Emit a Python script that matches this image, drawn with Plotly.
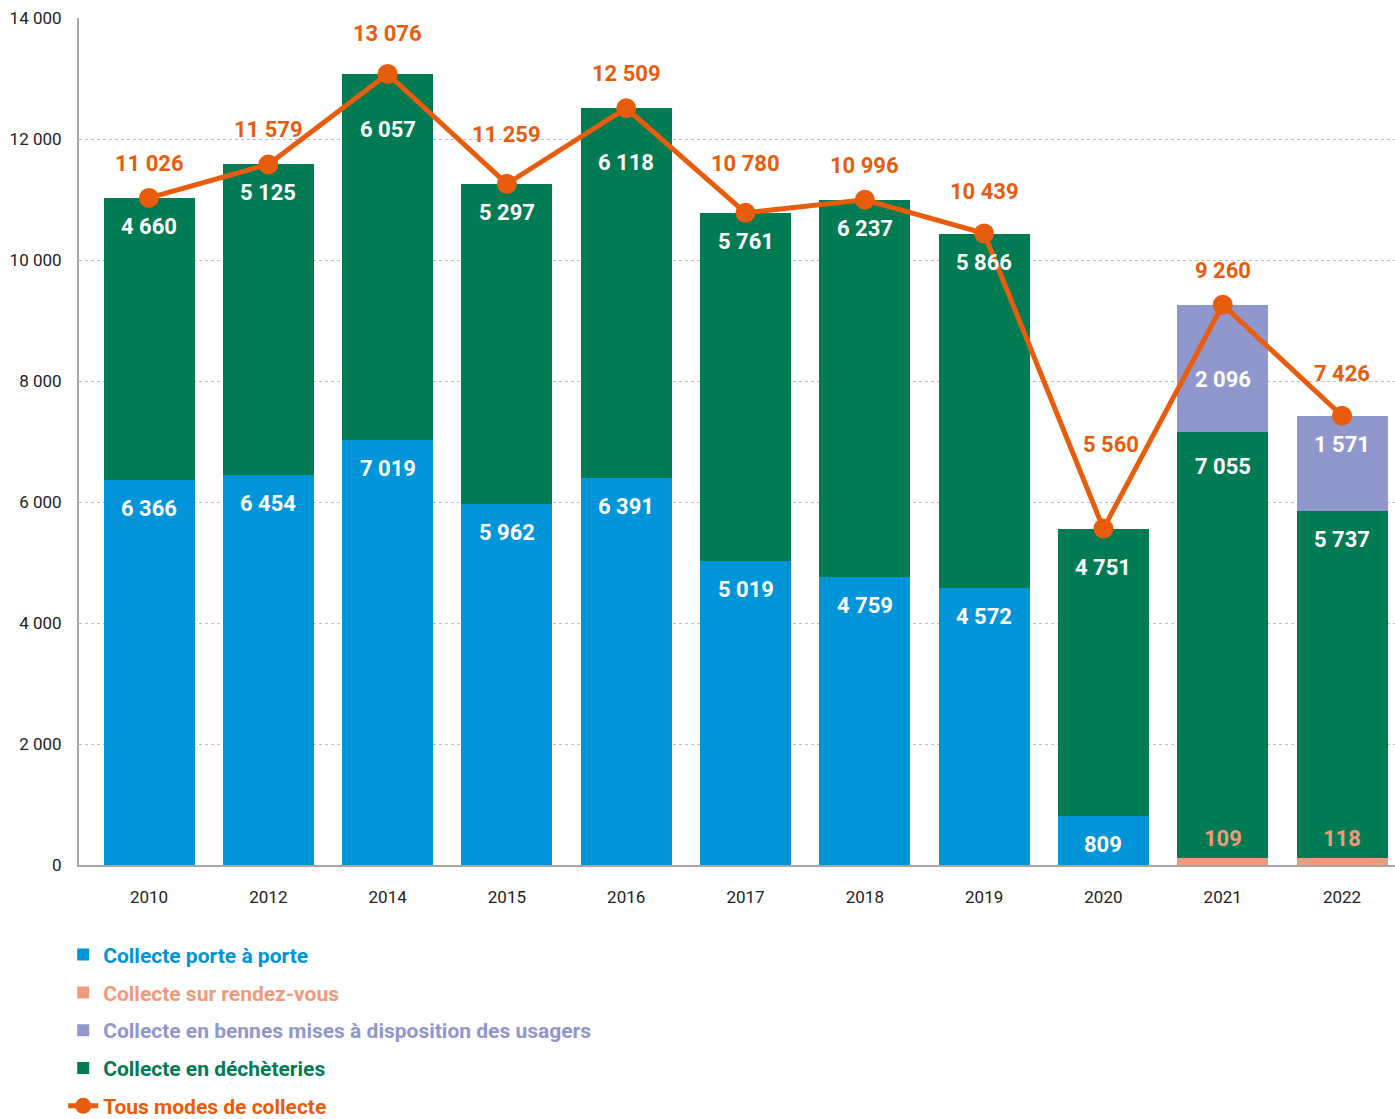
import plotly.graph_objects as go

# Collected tonnage by collection mode
years = ["2010", "2012", "2014", "2015", "2016", "2017", "2018", "2019", "2020", "2021", "2022"]
porte_a_porte = [6366, 6454, 7019, 5962, 6391, 5019, 4759, 4572, 809, None, None]
rendez_vous = [None, None, None, None, None, None, None, None, None, 109, 118]
decheteries = [4660, 5125, 6057, 5297, 6118, 5761, 6237, 5866, 4751, 7055, 5737]
bennes = [None, None, None, None, None, None, None, None, None, 2096, 1571]
total = [11026, 11579, 13076, 11259, 12509, 10780, 10996, 10439, 5560, 9260, 7426]
y_ticks = [0, 2000, 4000, 6000, 8000, 10000, 12000, 14000]

BLUE = "#0094D8"
SALMON = "#F09A7C"
LAVENDER = "#8F97CC"
GREEN = "#007B53"
ORANGE = "#E85C0D"
FONT = "Roboto"


def fmt(v):
    return f"{v:,}".replace(",", " ")


# stacking order bottom -> top, with legend rank
stack = [
    ("Collecte porte à porte", porte_a_porte, BLUE, 1),
    ("Collecte sur rendez-vous", rendez_vous, SALMON, 2),
    ("Collecte en déchèteries", decheteries, GREEN, 4),
    ("Collecte en bennes mises à disposition des usagers", bennes, LAVENDER, 3),
]

fig = go.Figure()
for name, vals, color, rank in stack:
    fig.add_trace(go.Bar(
        x=years, y=vals, name=f"<span style='color:{color}'><b>{name}</b></span>",
        marker=dict(color=color, line=dict(width=0)),
        legendrank=rank, legendgroup=name, hoverinfo="skip",
    ))

fig.add_trace(go.Scatter(
    x=years, y=total, mode="lines+markers",
    name=f"<span style='color:{ORANGE}'><b>Tous modes de collecte</b></span>",
    line=dict(color=ORANGE, width=5),
    marker=dict(color=ORANGE, size=20),
    legendrank=5, legendgroup="total", hoverinfo="skip",
))

# value labels inside each stacked segment, near its top
# (category positions are given by index so numeric-looking years are not misread)
drop_default = -14
drop_override = {("Collecte en déchèteries", "2014"): -41,
                 ("Collecte en déchèteries", "2016"): -40,
                 ("Collecte en déchèteries", "2020"): -24,
                 ("Collecte en déchèteries", "2021"): -20,
                 ("Collecte en bennes mises à disposition des usagers", "2021"): -60}
annotations = []
base = [0] * len(years)
for name, vals, color, rank in stack:
    for i, v in enumerate(vals):
        if v is None:
            continue
        top = base[i] + v
        if color == SALMON:
            annotations.append(dict(
                x=i, y=top, text=f"<b>{fmt(v)}</b>", showarrow=False,
                yanchor="bottom", yshift=5,
                font=dict(family=FONT, size=22, color=SALMON)))
        else:
            annotations.append(dict(
                x=i, y=top, text=f"<b>{fmt(v)}</b>", showarrow=False,
                yanchor="top", yshift=drop_override.get((name, years[i]), drop_default),
                font=dict(family=FONT, size=22, color="white")))
        base[i] = top

# total labels above the line markers
lift_default = 20
lift_override = {"2014": 26, "2015": 35, "2017": 35, "2019": 27, "2022": 28}
for i, v in enumerate(total):
    xs = 0
    lift = lift_override.get(years[i], lift_default)
    if years[i] == "2020":
        xs, lift = 8, 70
    annotations.append(dict(
        x=i, y=v, text=f"<b>{fmt(v)}</b>", showarrow=False,
        yanchor="bottom", yshift=lift, xshift=xs,
        font=dict(family=FONT, size=22, color=ORANGE)))

fig.update_layout(
    width=1395, height=1119,
    margin=dict(l=79, r=0, t=18, b=254, autoexpand=False),
    paper_bgcolor="white", plot_bgcolor="white",
    barmode="stack", bargap=0.237,
    separators=", ",
    font=dict(family=FONT, size=17, color="#222222"),
    annotations=annotations,
    showlegend=True,
    legend=dict(
        x=-0.012, xanchor="left", y=-0.082, yanchor="top",
        orientation="v", tracegroupgap=7.5, itemwidth=30,
        font=dict(family=FONT, size=21),
        bgcolor="rgba(0,0,0,0)",
    ),
)
fig.update_xaxes(
    type="category", range=[-0.587, 10.444],
    showline=True, linecolor="#A6A6A6", linewidth=2,
    showgrid=False, ticks="", ticklabelstandoff=16,
    tickfont=dict(family=FONT, size=17, color="#222222"),
)
fig.update_yaxes(
    range=[0, 14000], tickvals=y_ticks, tickformat=",d",
    showline=True, linecolor="#A6A6A6", linewidth=2,
    showgrid=True, gridcolor="#BDBDBD", gridwidth=1, griddash="dot",
    zeroline=False, ticks="", ticklabelstandoff=12,
    tickfont=dict(family=FONT, size=17, color="#222222"),
)

fig.write_html("out.html")
